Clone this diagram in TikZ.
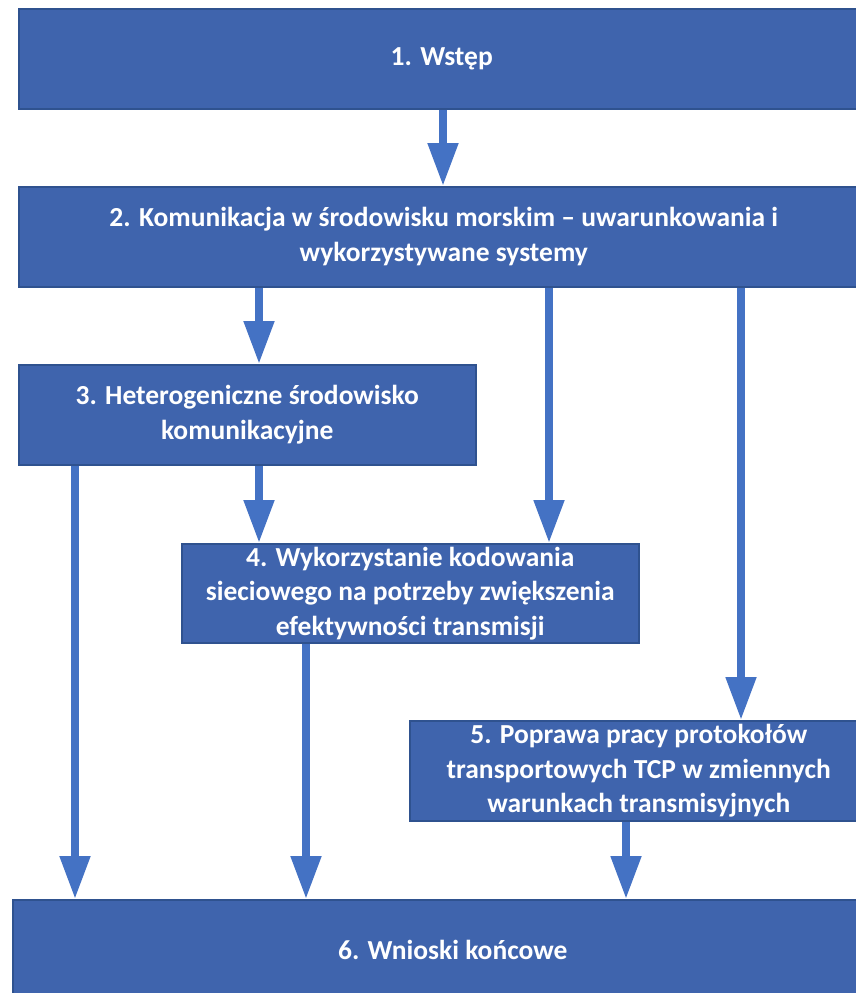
\documentclass[tikz,border=0pt]{standalone}
\usepackage{fontspec}
\setmainfont{Carlito}
\usetikzlibrary{arrows.meta}
\definecolor{boxfill}{HTML}{3F64AD}
\definecolor{boxline}{HTML}{2F528F}
\definecolor{arrowc}{HTML}{4472C4}
\tikzset{
  box/.style={draw=boxline, line width=1.5pt, fill=boxfill, text=white,
    font=\fontsize{27.5}{34.5}\selectfont\bfseries, align=center, inner sep=0pt,
    anchor=north west},
  flow/.style={draw=arrowc, line width=8pt,
    -{Triangle[width=29pt,length=43pt]}}
}
\begin{document}
\begin{tikzpicture}[x=1pt,y=-1pt]
\useasboundingbox (0,0) rectangle (855,993);
\node[box, minimum width=846pt, minimum height=100pt] (b1) at (18,8) {1. Wstęp};
\node[box, minimum width=850pt, minimum height=100pt] (b2) at (18,186)
  {2. Komunikacja w środowisku morskim – uwarunkowania i\\wykorzystywane systemy};
\node[box, minimum width=457pt, minimum height=100pt] (b3) at (18,364)
  {3. Heterogeniczne środowisko\\komunikacyjne};
\node[box, minimum width=457pt, minimum height=99pt] (b4) at (181,543)
  {4. Wykorzystanie kodowania\\sieciowego na potrzeby zwiększenia\\efektywności transmisji};
\node[box, minimum width=458pt, minimum height=100pt] (b5) at (409,720)
  {5. Poprawa pracy protokołów\\transportowych TCP w zmiennych\\warunkach transmisyjnych};
\node[box, minimum width=880pt, minimum height=100pt] (b6) at (12,899)
  {6. Wnioski końcowe};
\draw[flow] (b1.south -| 443,0) -- (b2.north -| 443,0);
\draw[flow] (b2.south -| 259,0) -- (b3.north -| 259,0);
\draw[flow] (b2.south -| 549,0) -- (b4.north -| 549,0);
\draw[flow] (b2.south -| 741,0) -- (b5.north -| 741,0);
\draw[flow] (b3.south -| 259,0) -- (b4.north -| 259,0);
\draw[flow] (b3.south -| 75,0) -- (b6.north -| 75,0);
\draw[flow] (b4.south -| 306,0) -- (b6.north -| 306,0);
\draw[flow] (b5.south -| 626,0) -- (b6.north -| 626,0);
\end{tikzpicture}
\end{document}
